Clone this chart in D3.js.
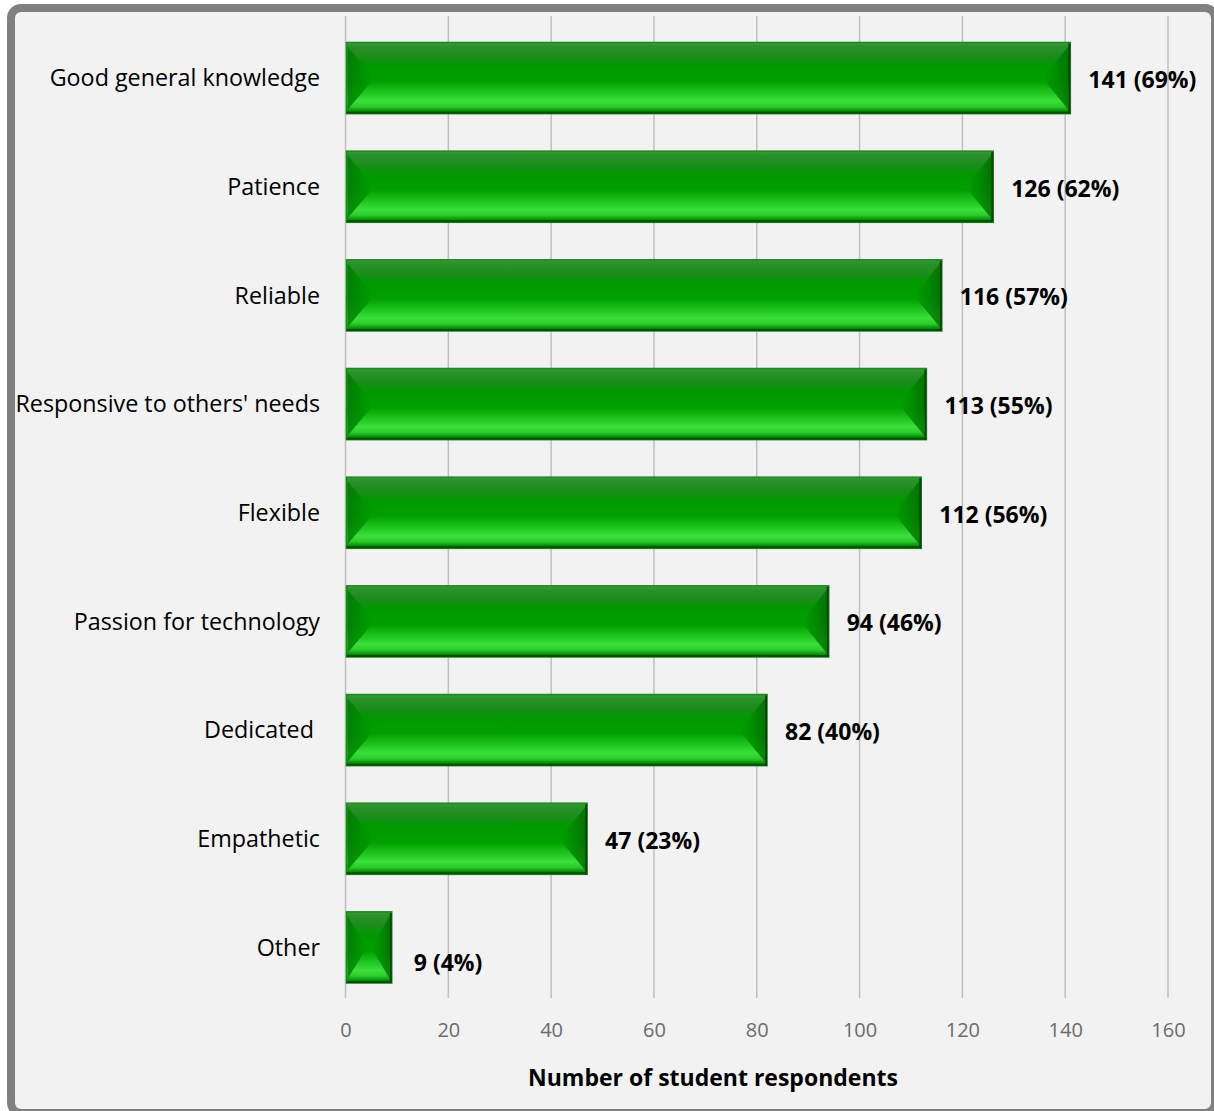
<!DOCTYPE html>
<html><head><meta charset="utf-8">
<script src="https://cdn.jsdelivr.net/npm/d3@7"></script>
<style>
html,body{margin:0;padding:0;background:#fff;}
svg{display:block;}
text{font-family:"Open Sans",sans-serif;}
</style></head>
<body>
<svg id="chart" width="1214" height="1111"></svg>
<script>
const categories = ["Good general knowledge","Patience","Reliable","Responsive to others' needs","Flexible","Passion for technology","Dedicated ","Empathetic","Other"];
const counts = [141,126,116,113,112,94,82,47,9];
const percents = [69,62,57,55,56,46,40,23,4];
const xTicks = [0,20,40,60,80,100,120,140,160];
const xTitle = "Number of student respondents";

const W=1214,H=1111;
const svg=d3.select("#chart");
const defs=svg.append("defs");

// frame
svg.append("rect").attr("x",11).attr("y",8).attr("width",1204).attr("height",1105)
  .attr("rx",10).attr("fill","#f2f2f2").attr("stroke","#808080").attr("stroke-width",8);

const x=d3.scaleLinear().domain([0,160]).range([345.5,1168]);
const y=d3.scaleBand().domain(categories).range([24,1001.5]).paddingInner(0.345).paddingOuter(0.17);

// gridlines
const g=svg.append("g");
g.selectAll("line.grid").data(xTicks).join("line").attr("class","grid")
  .attr("x1",d=>x(d)).attr("x2",d=>x(d)).attr("y1",16).attr("y2",998)
  .attr("stroke","#bfbfbf").attr("stroke-width",1.5);

// axis tick labels
const axis=d3.axisBottom(x).tickValues(xTicks).tickSize(0).tickPadding(0);
const ax=svg.append("g").attr("transform","translate(0,1030)").call(axis);
ax.select(".domain").remove();
ax.selectAll("text").attr("font-size",20).attr("fill","#6b6b6b").attr("font-family","'Open Sans',sans-serif").attr("dy","0.35em");

// gradients
const vg=defs.append("linearGradient").attr("id","vg").attr("x1",0).attr("x2",0).attr("y1",0).attr("y2",1);
[[0,"#3a9a3a"],[0.06,"#2a902a"],[0.2,"#1a8c1a"],[0.32,"#009900"],[0.55,"#00a000"],[0.72,"#22c822"],[0.82,"#3ae03a"],[0.9,"#2ccc2c"],[0.95,"#0c9a0c"],[1,"#006000"]]
  .forEach(s=>vg.append("stop").attr("offset",s[0]).attr("stop-color",s[1]));
const lg=defs.append("linearGradient").attr("id","lg").attr("x1",0).attr("x2",1).attr("y1",0).attr("y2",0);
[[0,"#007a00"],[1,"#00a000"]].forEach(s=>lg.append("stop").attr("offset",s[0]).attr("stop-color",s[1]));
const rg=defs.append("linearGradient").attr("id","rg").attr("x1",0).attr("x2",1).attr("y1",0).attr("y2",0);
[[0,"#00a400"],[1,"#007000"]].forEach(s=>rg.append("stop").attr("offset",s[0]).attr("stop-color",s[1]));

const rows=categories.map((c,i)=>({c,v:counts[i],p:percents[i],i}));
const bars=svg.append("g").selectAll("g.bar").data(rows).join("g").attr("class","bar");
bars.each(function(d){
  const gg=d3.select(this);
  const x0=x(0)+1, x1=x(d.v), y0=y(d.c), h=y.bandwidth(), y1=y0+h, yc=y0+h/2;
  const w=x1-x0;
  const bx=Math.min(28,w*0.45);
  gg.append("rect").attr("x",x0).attr("y",y0).attr("width",w).attr("height",h).attr("fill","url(#vg)");
  gg.append("path").attr("d",`M${x0+1},${y0+4}L${x0+bx},${yc}L${x0+1},${y1-4}Z`).attr("fill","url(#lg)").attr("opacity",0.85);
  gg.append("path").attr("d",`M${x1-2},${y0+4}L${x1-bx},${yc}L${x1-2},${y1-4}Z`).attr("fill","url(#rg)").attr("opacity",0.85);
  gg.append("rect").attr("x",x0).attr("y",y0).attr("width",w).attr("height",h).attr("fill","none").attr("stroke","#1a8a1a").attr("stroke-width",1.5);
  gg.append("line").attr("x1",x1-1).attr("x2",x1-1).attr("y1",y0+1).attr("y2",y1).attr("stroke","#004a00").attr("stroke-width",2);
  gg.append("line").attr("x1",x0).attr("x2",x1).attr("y1",y1-1).attr("y2",y1-1).attr("stroke","#005000").attr("stroke-width",2);
});

// value labels
svg.append("g").selectAll("text").data(rows).join("text")
  .attr("x",d=>x(d.v)+(d.v<20?22:18))
  .attr("y",d=>y(d.c)+y.bandwidth()/2+(d.i===categories.length-1?16:2))
  .attr("dy","0.35em").attr("font-size",23).attr("font-weight","bold").attr("fill","#000")
  .text(d=>`${d.v} (${d.p}%)`);

// category labels
svg.append("g").selectAll("text").data(categories).join("text")
  .attr("x",320).attr("y",d=>y(d)+y.bandwidth()/2)
  .attr("dy","0.35em").attr("text-anchor","end").attr("font-size",23.3).attr("fill","#000")
  .style("white-space","pre").text(d=>d);

svg.append("text").attr("x",713).attr("y",1078).attr("dy","0.35em").attr("text-anchor","middle")
  .attr("font-size",23).attr("font-weight","bold").attr("fill","#000").text(xTitle);
</script>
</body></html>
